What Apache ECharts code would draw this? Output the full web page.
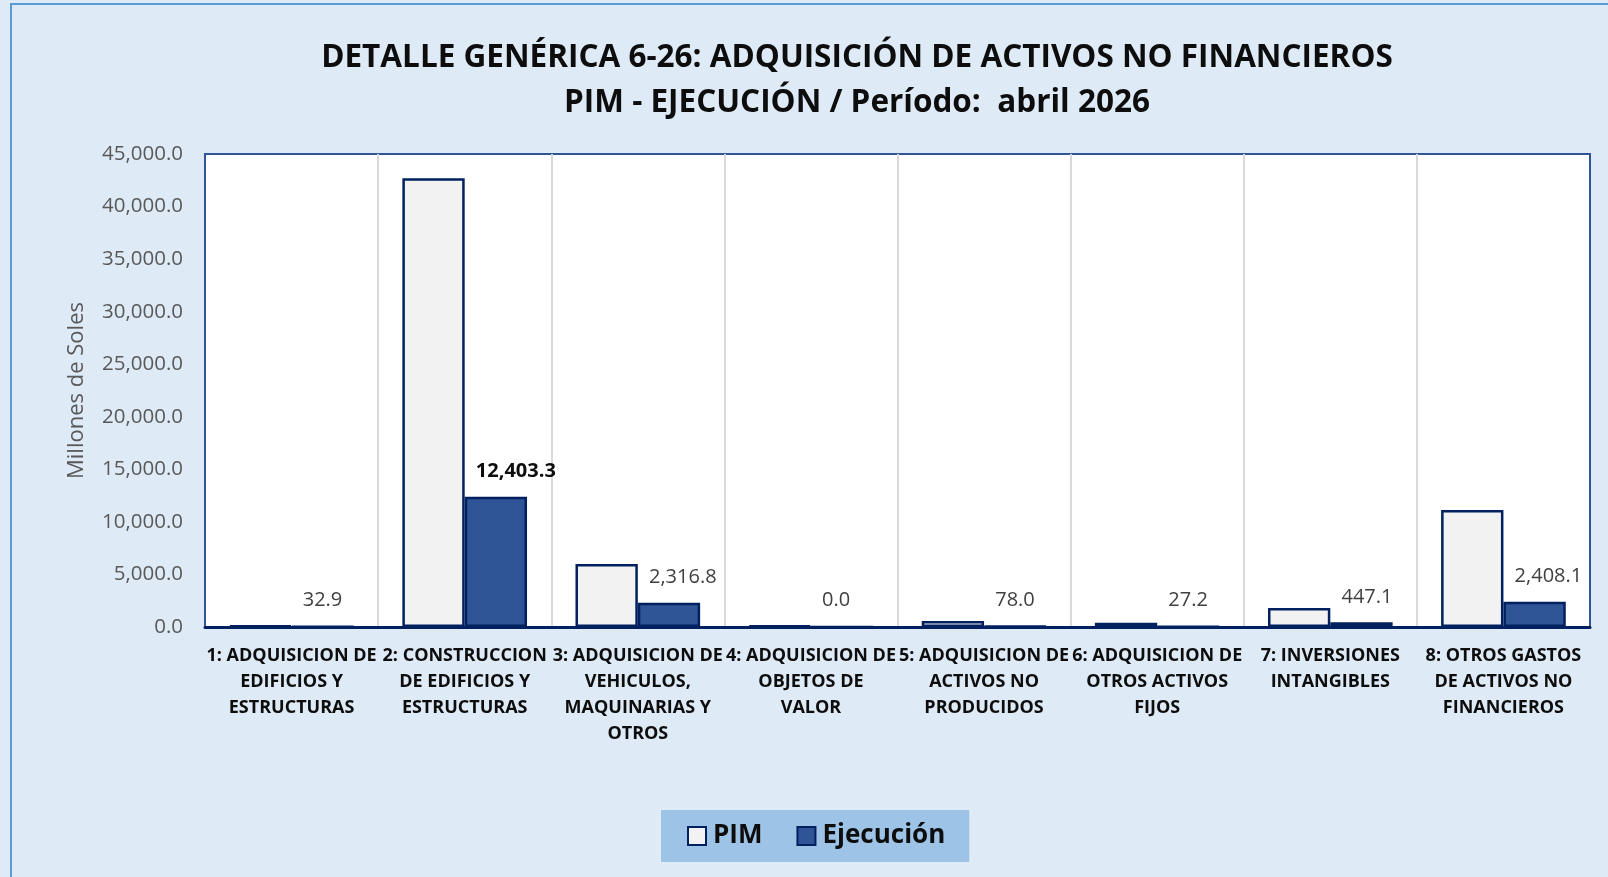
<!DOCTYPE html>
<html>
<head>
<meta charset="utf-8">
<title>Detalle genérica 6-26</title>
<script src="https://cdn.jsdelivr.net/npm/echarts@6/dist/echarts.min.js"></script>
<style>
  html, body { margin: 0; padding: 0; background: #DEEAF6; }
  #main { width: 1608px; height: 877px; }
</style>
</head>
<body>
<div id="main"></div>
<script>
  // datos del gráfico
  var categorias = [
    '1: ADQUISICION DE\nEDIFICIOS Y\nESTRUCTURAS',
    '2: CONSTRUCCION\nDE EDIFICIOS Y\nESTRUCTURAS',
    '3: ADQUISICION DE\nVEHICULOS,\nMAQUINARIAS Y\nOTROS',
    '4: ADQUISICION DE\nOBJETOS DE\nVALOR',
    '5: ADQUISICION DE\nACTIVOS NO\nPRODUCIDOS',
    '6: ADQUISICION DE\nOTROS ACTIVOS\nFIJOS',
    '7: INVERSIONES\nINTANGIBLES',
    '8: OTROS GASTOS\nDE ACTIVOS NO\nFINANCIEROS'
  ];
  var pim = [120, 42700, 6000, 120, 570, 400, 1810, 11130];
  var ejecucion = [32.9, 12403.3, 2316.8, 0.0, 78.0, 27.2, 447.1, 2408.1];

  var fuente = "'Open Sans', 'Noto Sans', sans-serif";

  function fmt(v) {
    return Number(v).toLocaleString('en-US', {minimumFractionDigits: 1, maximumFractionDigits: 1});
  }

  var maxEj = Math.max.apply(null, ejecucion);
  var ejData = ejecucion.map(function (v) {
    if (v === maxEj) {
      return { value: v, label: { fontWeight: 'bold', color: '#0D0D0D' } };
    }
    return v;
  });

  var chart = echarts.init(document.getElementById('main'));
  var option = {
    backgroundColor: '#DEEAF6',
    animation: false,
    graphic: [{
      type: 'rect',
      shape: { x: 11, y: 4, width: 1620, height: 900 },
      style: { fill: 'none', stroke: '#5B9BD5', lineWidth: 2 },
      silent: true
    }],
    title: {
      text: 'DETALLE GENÉRICA 6-26: ADQUISICIÓN DE ACTIVOS NO FINANCIEROS\nPIM - EJECUCIÓN / Período:  abril 2026',
      left: 852,
      top: 31,
      textAlign: 'center',
      textStyle: {
        fontFamily: fuente,
        fontWeight: 'bold',
        fontSize: 31.5,
        lineHeight: 45,
        color: '#0D0D0D'
      }
    },
    legend: {
      data: ['PIM', 'Ejecución'],
      icon: 'rect',
      left: 661,
      top: 810,
      backgroundColor: '#9DC3E6',
      padding: [13, 24, 13, 26],
      itemGap: 34,
      itemWidth: 18,
      itemHeight: 18,
      textStyle: {
        fontFamily: fuente,
        fontWeight: 'bold',
        fontSize: 26,
        color: '#0D0D0D',
        padding: [0, 0, 0, 2]
      }
    },
    grid: {
      left: 205,
      right: 18,
      top: 154,
      bottom: 250,
      show: true,
      backgroundColor: '#FFFFFF',
      borderColor: '#2F5597',
      borderWidth: 2
    },
    xAxis: {
      type: 'category',
      data: categorias,
      axisTick: { show: false },
      axisLine: { show: true, lineStyle: { color: '#002060', width: 3 } },
      splitLine: { show: true, showMinLine: false, showMaxLine: false, lineStyle: { color: '#D9D9D9', width: 2 } },
      axisLabel: {
        interval: 0,
        margin: 16,
        fontFamily: fuente,
        fontWeight: 'bold',
        fontSize: 18,
        lineHeight: 26,
        color: '#0D0D0D'
      }
    },
    yAxis: {
      type: 'value',
      min: 0,
      max: 45000,
      interval: 5000,
      name: 'Millones de Soles',
      nameLocation: 'middle',
      nameGap: 117,
      nameRotate: 90,
      nameTextStyle: { fontFamily: fuente, fontSize: 22, color: '#595959' },
      axisLine: { show: false },
      axisTick: { show: false },
      splitLine: { show: false },
      axisLabel: {
        margin: 22,
        fontFamily: fuente,
        fontSize: 20.5,
        color: '#595959',
        formatter: fmt
      }
    },
    series: [
      {
        name: 'PIM',
        type: 'bar',
        barGap: 0,
        barCategoryGap: '28%',
        data: pim,
        itemStyle: { color: '#F2F2F2', borderColor: '#002060', borderWidth: 2.5 }
      },
      {
        name: 'Ejecución',
        type: 'bar',
        data: ejData,
        itemStyle: { color: '#2F5597', borderColor: '#002060', borderWidth: 2.5 },
        label: {
          show: true,
          position: 'top',
          distance: 15,
          align: 'left',
          offset: [-20, 0],
          fontFamily: fuente,
          fontSize: 20,
          color: '#404040',
          formatter: function (p) { return fmt(p.value); }
        }
      }
    ]
  };
  chart.setOption(option);
</script>
</body>
</html>
